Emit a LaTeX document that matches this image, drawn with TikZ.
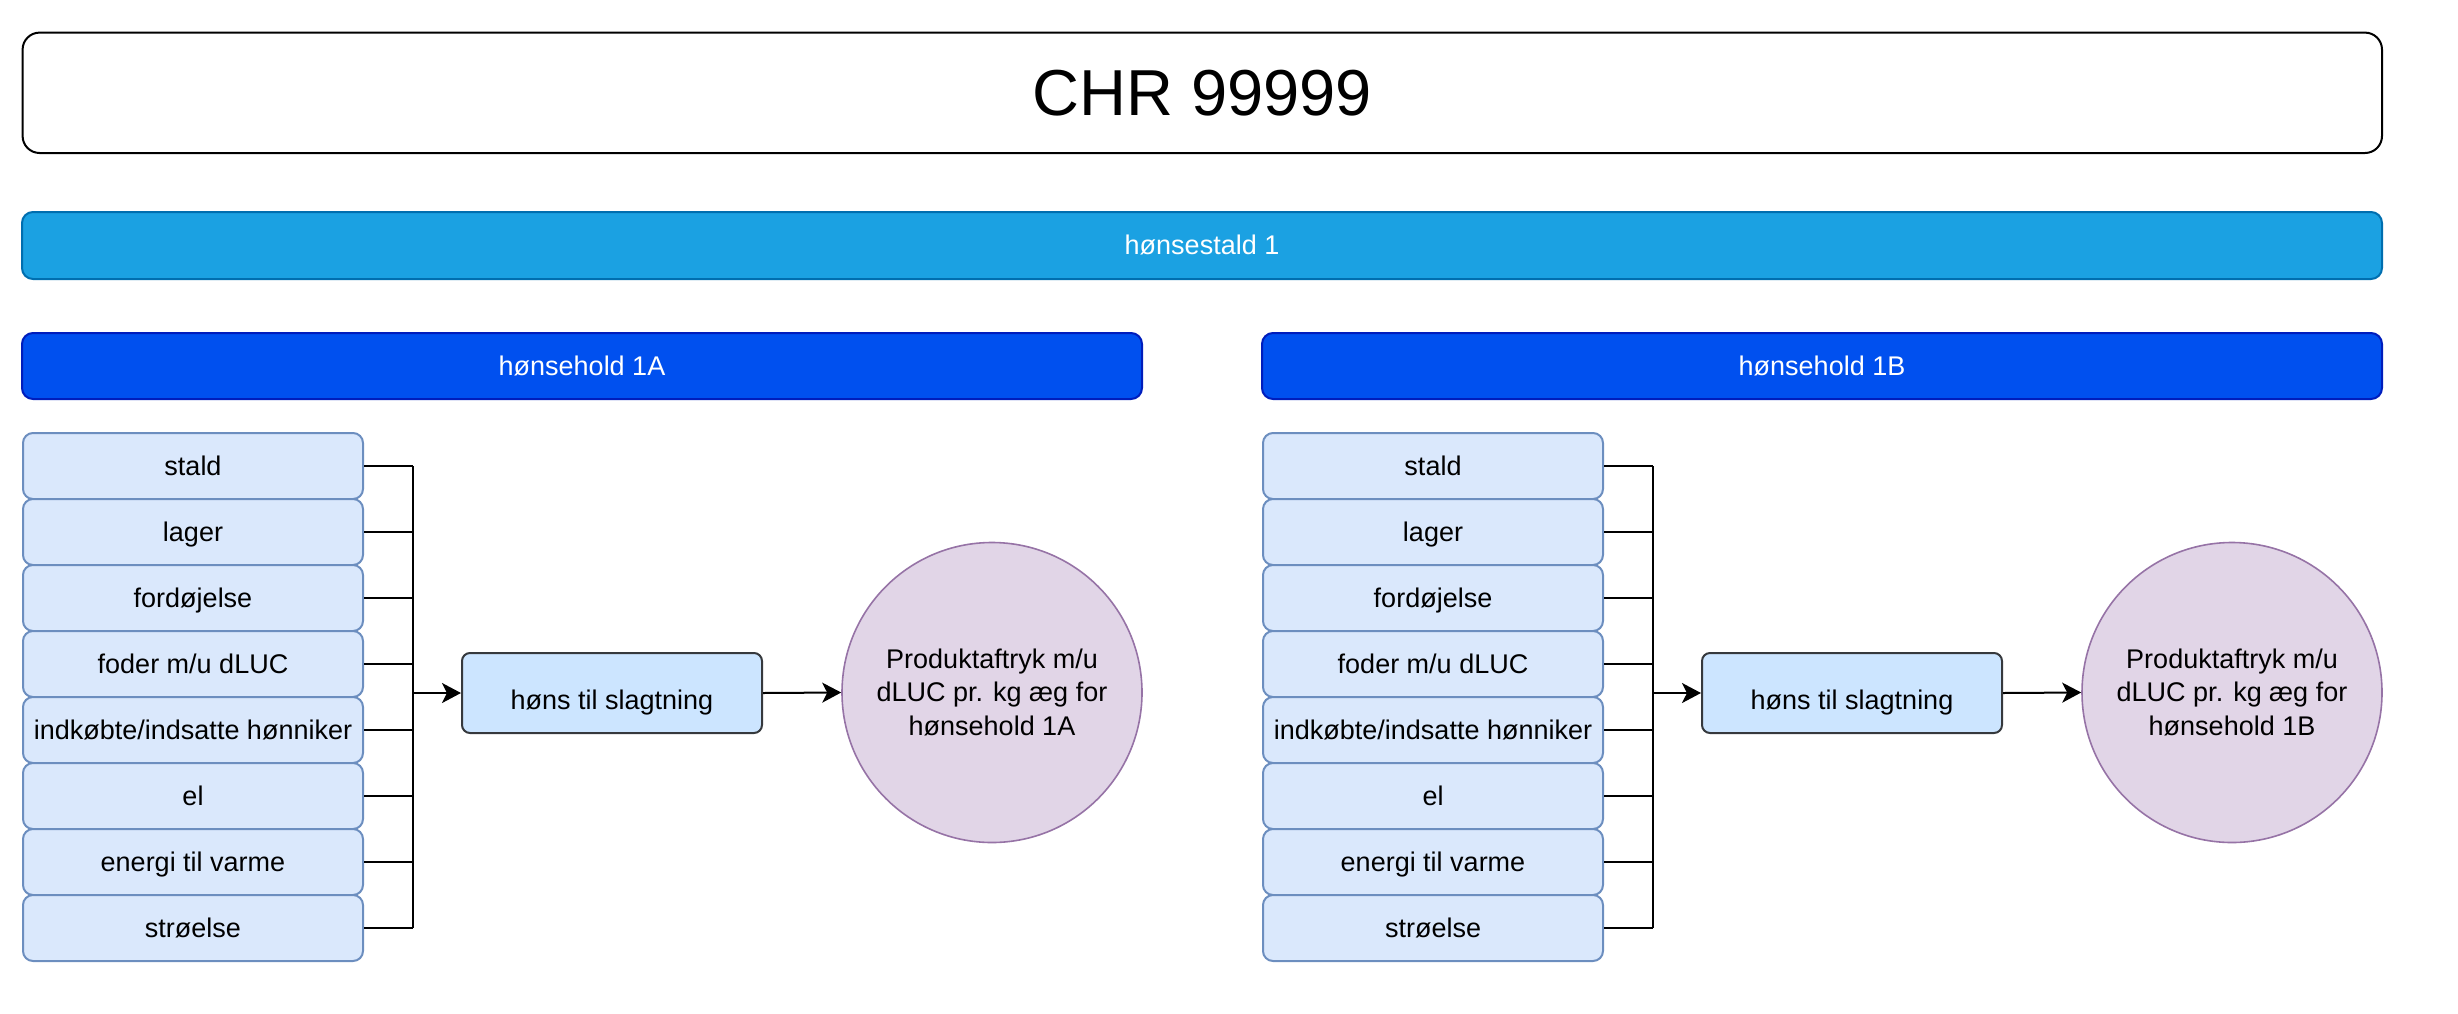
\documentclass[tikz,border=0pt]{standalone}
\usepackage{fontspec}
\setmainfont{Liberation Sans}
\usetikzlibrary{arrows.meta,calc}
\definecolor{staldfill}{HTML}{1BA1E2}
\definecolor{staldline}{HTML}{006EAF}
\definecolor{holdfill}{HTML}{0050EF}
\definecolor{holdline}{HTML}{001DBC}
\definecolor{itemfill}{HTML}{DAE8FC}
\definecolor{itemline}{HTML}{6C8EBF}
\definecolor{honsfill}{HTML}{CCE5FF}
\definecolor{honsline}{HTML}{36393D}
\definecolor{circfill}{HTML}{E1D5E7}
\definecolor{circline}{HTML}{9673A6}
\newcommand\lnstrut{\rule[-2.86pt]{0pt}{15.08pt}}
\tikzset{
  txt/.style={font=\fontsize{13.5pt}{16.85pt}\selectfont, inner sep=0pt, align=center},
  oneline/.style={text height=12.22pt, text depth=2.86pt},
  titlebox/.style={text height=29.41pt, text depth=6.89pt, draw=black, fill=white,
    line width=1pt, rounded corners=8.5pt,
    minimum width=1179.7pt, minimum height=60.2pt, inner sep=0pt,
    font=\fontsize{32.5pt}{39pt}\selectfont},
  staldbar/.style={txt, oneline, draw=staldline, fill=staldfill, text=white, line width=1pt,
    rounded corners=5.5pt, minimum width=1180pt, minimum height=33.5pt},
  holdbar/.style={txt, oneline, draw=holdline, fill=holdfill, text=white, line width=1pt,
    rounded corners=5.5pt, minimum width=560pt, minimum height=33pt},
  itembox/.style={txt, oneline, draw=itemline, fill=itemfill, line width=1pt,
    rounded corners=5pt, minimum width=170pt, minimum height=33pt},
  honsbox/.style={txt, text height=18.86pt, text depth=2.86pt, draw=honsline,
    fill=honsfill, line width=1pt, rounded corners=4pt, minimum width=150pt,
    minimum height=40pt},
  resultcircle/.style={txt, circle, draw=circline, fill=circfill, line width=0.8pt,
    minimum size=150pt},
  link/.style={draw=black, line width=1pt},
  flow/.style={link, -{Stealth[length=9.5pt, width=10pt, inset=2.5pt]}}
}
\begin{document}
\begin{tikzpicture}[x=0.5pt,y=-0.5pt]
\useasboundingbox (0,0) rectangle (2458,1013);
\node[titlebox] (title) at (1202.3,92.8) {CHR 99999};
\node[staldbar] (stald1) at (1202,245.5) {hønsestald 1};
\foreach \side/\dx in {A/0, B/1240}{
  \node[holdbar] (hold\side) at (582+\dx,366) {hønsehold 1\side};
  \foreach \lbl [count=\i] in {stald, lager, fordøjelse, foder m/u dLUC,
      indkøbte/indsatte hønniker, el, energi til varme, strøelse}{
    \node[itembox] (item\side\i) at (193+\dx,{466+66*(\i-1)}) {\lbl};
  }
  \coordinate (bus\side) at (412.7+\dx,693);
  \node[honsbox] (hons\side) at (612+\dx,693) {høns til slagtning};
  \node[resultcircle] (res\side) at (992+\dx,692.5)
    {\lnstrut Produktaftryk m/u\\dLUC pr. kg æg for\\\lnstrut hønsehold 1\side};
  \foreach \i in {1,...,8}{
    \draw[link] (item\side\i.east) -- (item\side\i.east -| bus\side);
  }
  \draw[link] (item\side1.east -| bus\side) -- (item\side8.east -| bus\side);
  \draw[flow] (bus\side) -- (hons\side.west);
  \draw[flow] (hons\side.east) -- (res\side.west);
}
\end{tikzpicture}
\end{document}
